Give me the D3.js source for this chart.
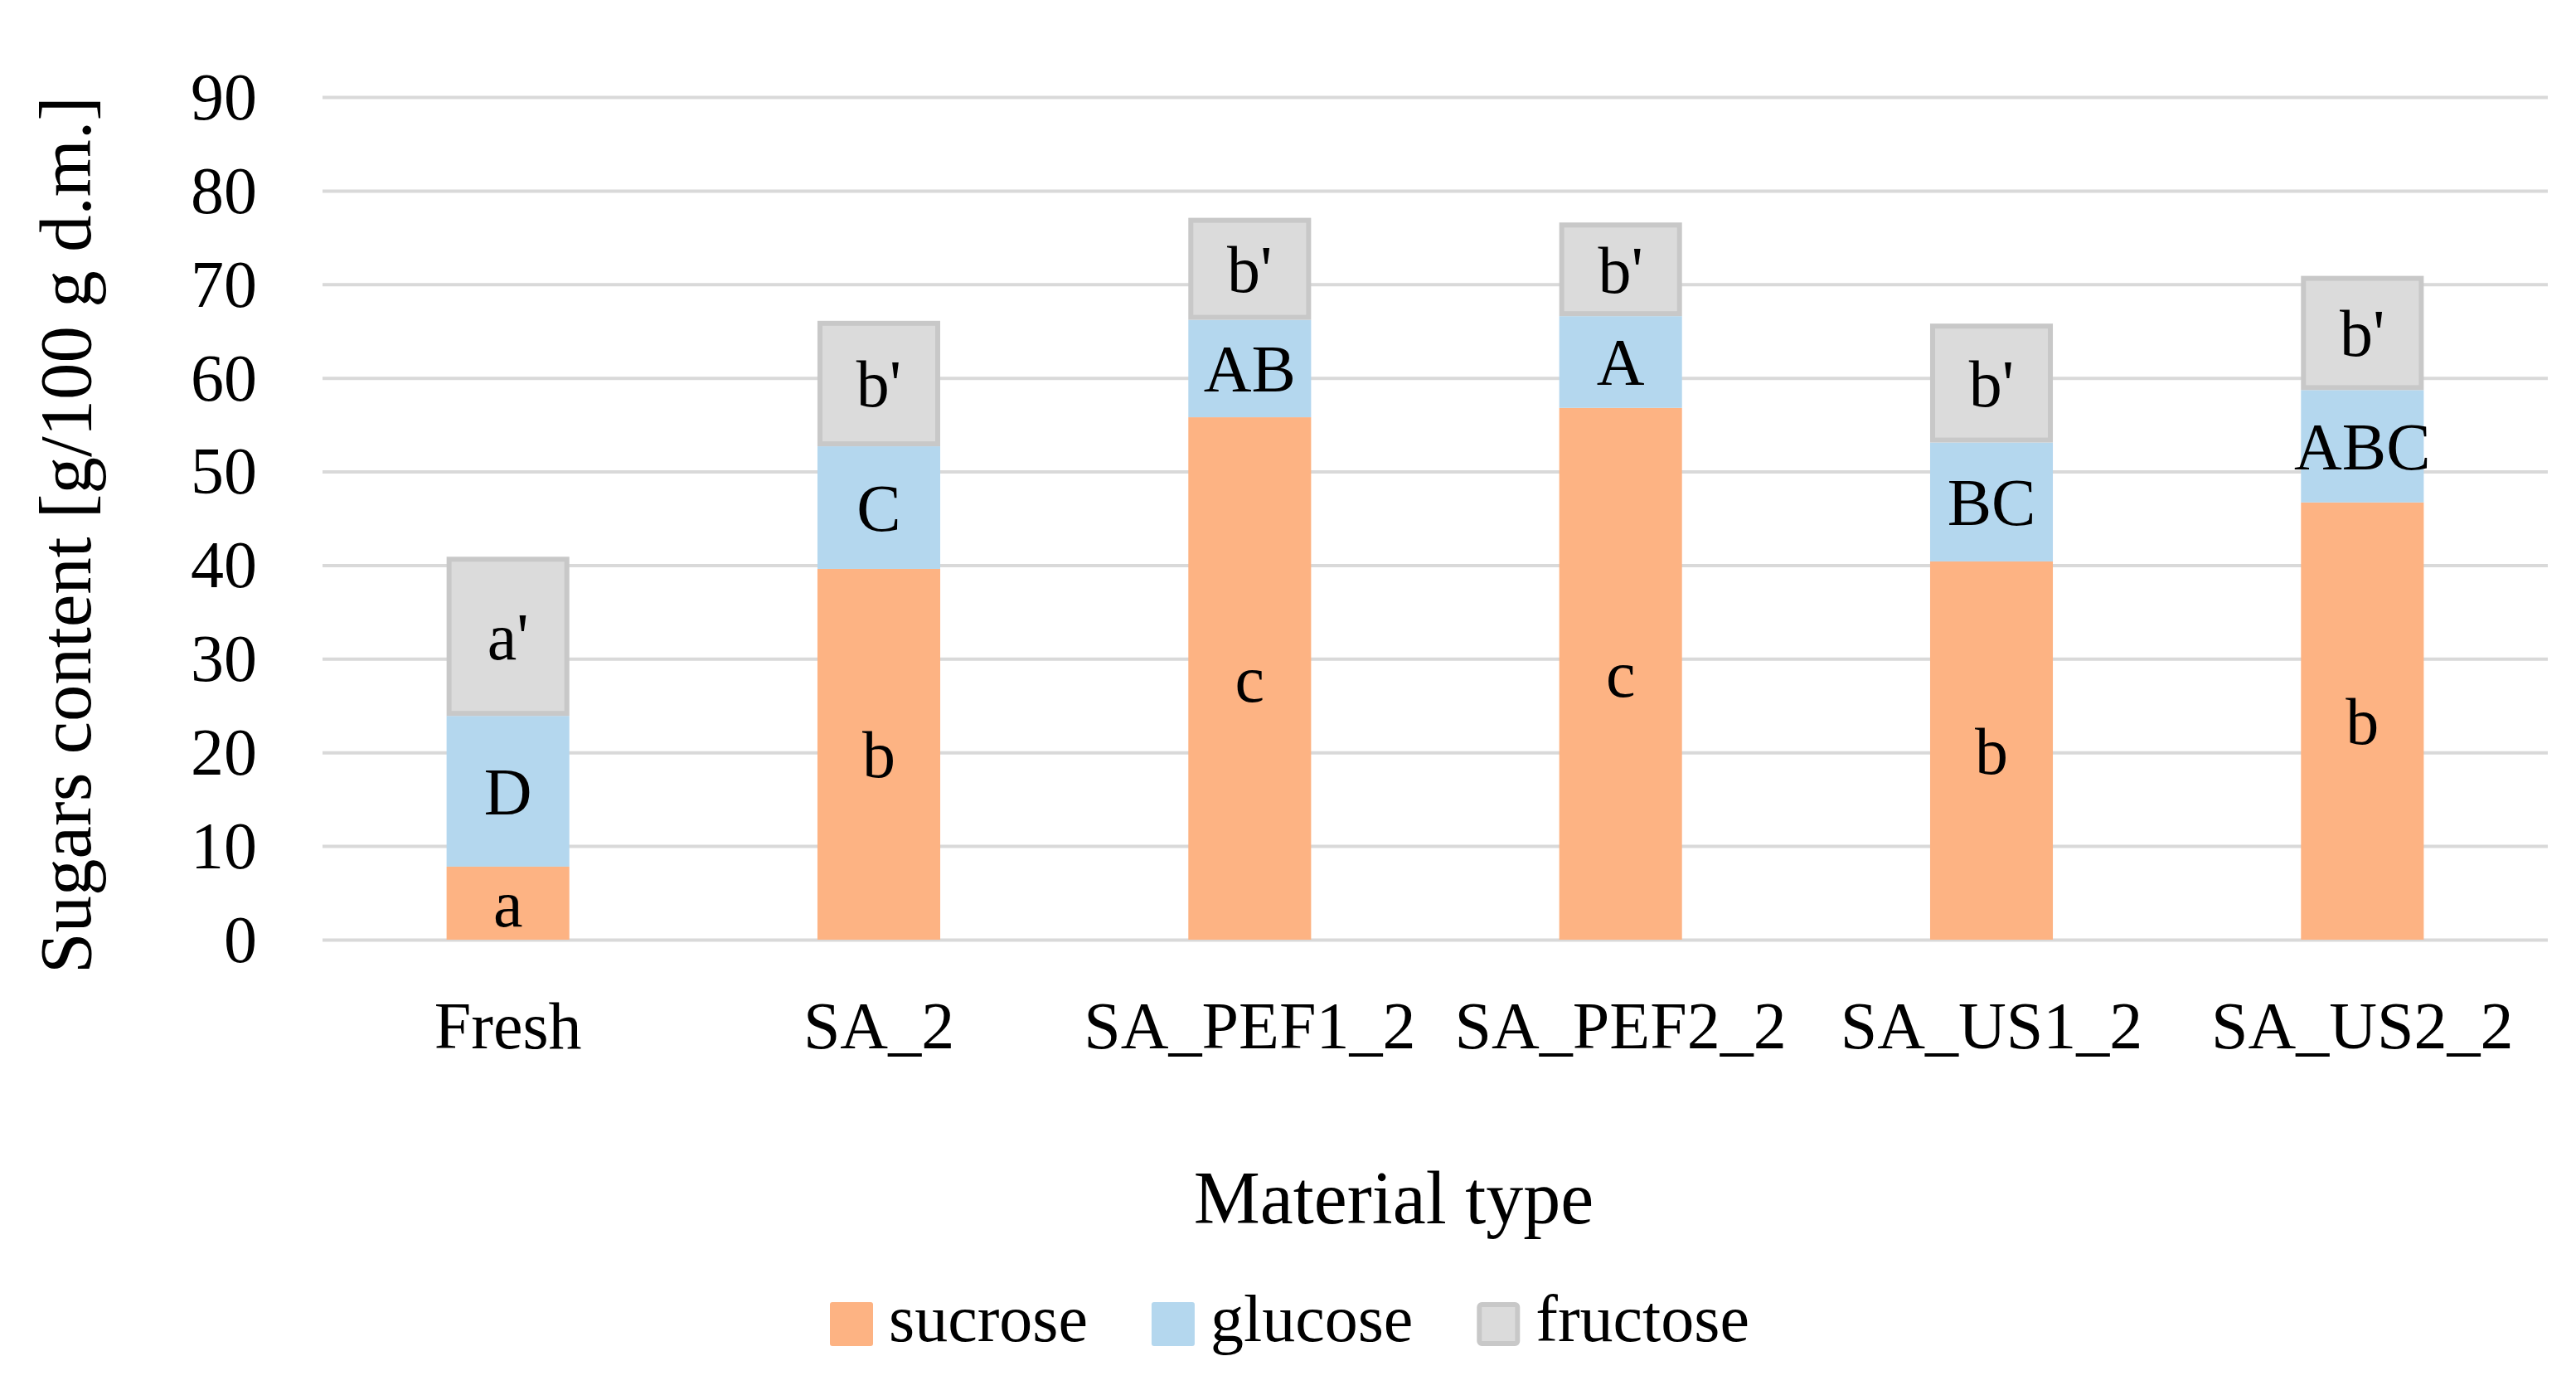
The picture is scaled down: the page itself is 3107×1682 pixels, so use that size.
<!DOCTYPE html>
<html>
<head>
<meta charset="utf-8">
<script src="https://cdn.jsdelivr.net/npm/d3@7"></script>
<style>
  body { margin: 0; background: #fff; }
  text { font-family: "Liberation Serif", "Times New Roman", serif; fill: #000; }
</style>
</head>
<body>
<script>
// data
const categories = ["Fresh", "SA_2", "SA_PEF1_2", "SA_PEF2_2", "SA_US1_2", "SA_US2_2"];
const seriesNames = ["sucrose", "glucose", "fructose"];
const sucrose = [7.8, 39.6, 55.8, 56.8, 40.4, 46.7];
const glucose = [16.1, 13.1, 10.4, 9.8, 12.7, 12.0];
const fructose = [17.0, 13.4, 10.9, 10.0, 12.7, 12.2];
const sucroseLetters = ["a", "b", "c", "c", "b", "b"];
const glucoseLetters = ["D", "C", "AB", "A", "BC", "ABC"];
const fructoseLetters = ["a'", "b'", "b'", "b'", "b'", "b'"];
const yTicks = [0, 10, 20, 30, 40, 50, 60, 70, 80, 90];

const width = 3107, height = 1682;
const margin = { left: 389, right: 34, top: 117, bottom: 549 };
const plotW = width - margin.left - margin.right;
const plotH = height - margin.top - margin.bottom;

const colors = { sucrose: "#fdb383", glucose: "#b4d7ee", fructose: "#dbdbdb" };
const fructoseStroke = "#c8c8c8";
const strokeW = 6;

const rows = categories.map((c, i) => ({
  cat: c,
  sucrose: sucrose[i], glucose: glucose[i], fructose: fructose[i],
  labels: { sucrose: sucroseLetters[i], glucose: glucoseLetters[i], fructose: fructoseLetters[i] }
}));

const stacked = d3.stack().keys(seriesNames)(rows);

const svg = d3.select("body").append("svg")
  .attr("width", width)
  .attr("height", height);

const g = svg.append("g")
  .attr("transform", `translate(${margin.left},${margin.top})`);

const x = d3.scaleBand()
  .domain(categories)
  .range([0, plotW])
  .paddingInner(0.669)
  .paddingOuter(0.3345);

const y = d3.scaleLinear()
  .domain([0, 90])
  .range([plotH, 0]);

// gridlines + y tick labels
const yAxis = g.append("g")
  .call(d3.axisLeft(y).tickValues(yTicks).tickSize(-plotW).tickPadding(79));
yAxis.select(".domain").remove();
yAxis.selectAll(".tick line")
  .attr("stroke", "#d9d9d9")
  .attr("stroke-width", 4);
yAxis.selectAll(".tick text")
  .attr("dy", "0.33em")
  .style("font-size", "80px");

// x labels
const xAxis = g.append("g")
  .attr("transform", `translate(0,${plotH})`)
  .call(d3.axisBottom(x).tickSize(0).tickPadding(74));
xAxis.select(".domain").remove();
xAxis.selectAll(".tick text")
  .style("font-size", "80px");

// bars
const layers = g.selectAll(".layer")
  .data(stacked)
  .enter().append("g")
  .attr("class", "layer");

layers.selectAll("rect")
  .data(d => d.map(s => ({ key: d.key, s: s })))
  .enter().append("rect")
  .attr("x", d => x(d.s.data.cat) + (d.key === "fructose" ? strokeW / 2 : 0))
  .attr("y", d => y(d.s[1]) + (d.key === "fructose" ? strokeW / 2 : 0))
  .attr("width", d => x.bandwidth() - (d.key === "fructose" ? strokeW : 0))
  .attr("height", d => y(d.s[0]) - y(d.s[1]) - (d.key === "fructose" ? strokeW : 0))
  .attr("fill", d => colors[d.key])
  .attr("stroke", d => d.key === "fructose" ? fructoseStroke : "none")
  .attr("stroke-width", strokeW);

// letters inside segments
layers.selectAll("text")
  .data(d => d.map(s => ({ key: d.key, s: s })))
  .enter().append("text")
  .attr("x", d => x(d.s.data.cat) + x.bandwidth() / 2)
  .attr("y", d => (y(d.s[0]) + y(d.s[1])) / 2)
  .attr("dy", "0.35em")
  .attr("text-anchor", "middle")
  .style("font-size", "80px")
  .text(d => d.s.data.labels[d.key]);

// axis titles
svg.append("text")
  .attr("transform", "translate(109,645) rotate(-90)")
  .attr("text-anchor", "middle")
  .style("font-size", "89px")
  .text("Sugars content [g/100 g d.m.]");

svg.append("text")
  .attr("x", 1681)
  .attr("y", 1475)
  .attr("text-anchor", "middle")
  .style("font-size", "90px")
  .text("Material type");

// legend
const legend = svg.append("g").attr("transform", "translate(1001,1570)");
let lx = 0;
seriesNames.forEach(name => {
  const item = legend.append("g").attr("transform", `translate(${lx},0)`);
  if (name === "fructose") {
    item.append("rect")
      .attr("x", strokeW / 2).attr("y", strokeW / 2)
      .attr("width", 52 - strokeW).attr("height", 53 - strokeW)
      .attr("rx", 3)
      .attr("fill", colors[name]).attr("stroke", fructoseStroke).attr("stroke-width", strokeW);
  } else {
    item.append("rect")
      .attr("width", 52).attr("height", 53).attr("rx", 3)
      .attr("fill", colors[name]);
  }
  const t = item.append("text")
    .attr("x", 71)
    .attr("y", 47)
    .style("font-size", "80px")
    .text(name);
  lx += 71 + t.node().getComputedTextLength() + 77;
});
</script>
</body>
</html>
